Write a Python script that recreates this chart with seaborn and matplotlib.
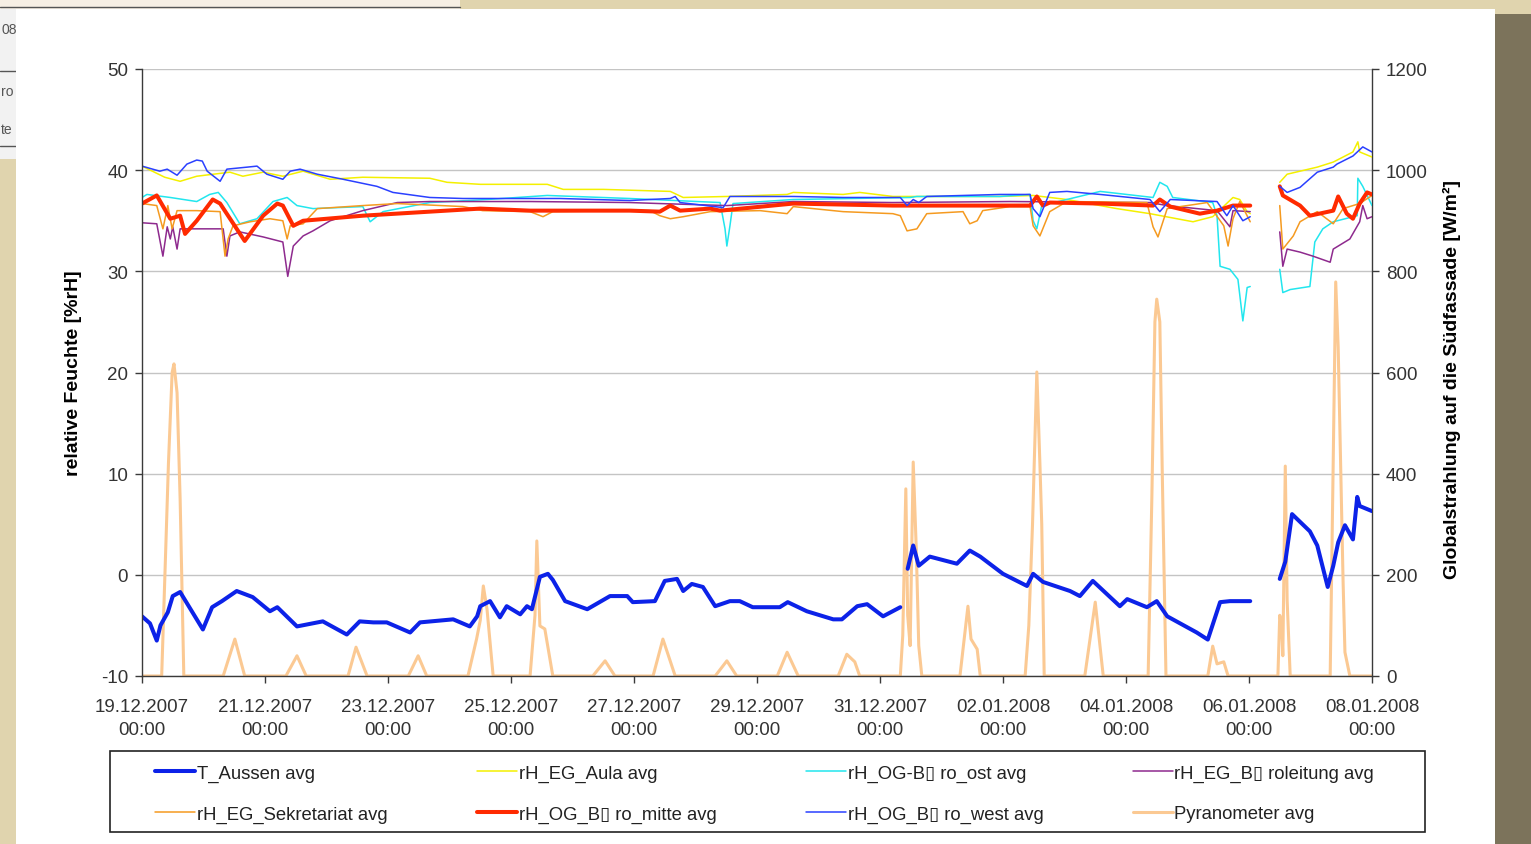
import pandas as pd
import matplotlib
matplotlib.use("Agg")
import matplotlib.pyplot as plt
import matplotlib.dates as mdates
from matplotlib.lines import Line2D
from matplotlib.patches import Rectangle
import seaborn as sns

sns.set_theme(style="white")
plt.rcParams["font.family"] = ["Liberation Sans", "DejaVu Sans"]
plt.rcParams["axes.unicode_minus"] = False

START = pd.Timestamp("2007-12-19 00:00")

# (day offset from 19.12.2007 00:00, value); None marks a logging gap
t_aussen = [
    (0.0, -4.1), (0.13, -4.8), (0.24, -6.5), (0.30, -5.0), (0.42, -3.7), (0.50, -2.1),
    (0.62, -1.7), (0.75, -3.0), (0.99, -5.4), (1.14, -3.2), (1.30, -2.6), (1.54, -1.6),
    (1.80, -2.2), (2.08, -3.6), (2.20, -3.2), (2.52, -5.1), (2.94, -4.6), (3.33, -5.9),
    (3.54, -4.6), (3.76, -4.7), (3.98, -4.7), (4.36, -5.7), (4.52, -4.7), (5.06, -4.4),
    (5.33, -5.1), (5.45, -4.1), (5.50, -3.1), (5.66, -2.6), (5.82, -4.2), (5.93, -3.1),
    (6.15, -3.9), (6.26, -3.1), (6.34, -3.4), (6.47, -0.2), (6.60, 0.1), (6.68, -0.5),
    (6.88, -2.6), (7.24, -3.4), (7.61, -2.1), (7.89, -2.1), (7.98, -2.7), (8.34, -2.6),
    (8.50, -0.6), (8.70, -0.4), (8.80, -1.6), (8.94, -0.9), (9.12, -1.2), (9.32, -3.1),
    (9.56, -2.6), (9.72, -2.6), (9.93, -3.2), (10.37, -3.2), (10.50, -2.7), (10.81, -3.6),
    (11.24, -4.4), (11.38, -4.4), (11.63, -3.1), (11.79, -2.9), (12.05, -4.1), (12.33, -3.2),
    (12.33, None),
    (12.45, 0.6), (12.54, 2.9), (12.63, 0.9), (12.81, 1.8), (13.25, 1.1), (13.46, 2.4),
    (13.63, 1.8), (14.00, 0.1), (14.39, -1.1), (14.49, 0.1), (14.65, -0.7), (15.09, -1.6),
    (15.25, -2.1), (15.46, -0.6), (15.90, -3.1), (16.02, -2.4), (16.34, -3.2), (16.50, -2.6),
    (16.67, -4.1), (17.15, -5.7), (17.33, -6.4), (17.53, -2.7), (17.69, -2.6), (18.02, -2.6),
    (18.02, None),
    (18.50, -0.4), (18.59, 1.3), (18.70, 6.0), (18.99, 4.3), (19.11, 2.9), (19.28, -1.2),
    (19.37, 0.9), (19.45, 3.2), (19.56, 4.9), (19.69, 3.5), (19.76, 7.7), (19.80, 6.8),
    (20.0, 6.3),
]

rh_aula = [
    (0.0, 40.4), (0.37, 39.3), (0.62, 38.9), (0.89, 39.4), (1.43, 39.8), (1.64, 39.4),
    (1.97, 39.8), (2.29, 39.4), (2.62, 39.9), (3.06, 39.1), (3.59, 39.3), (4.68, 39.2),
    (4.96, 38.8), (5.50, 38.6), (6.59, 38.6), (6.85, 38.1), (7.50, 38.1), (8.59, 37.9),
    (8.80, 37.3), (9.51, 37.4), (10.49, 37.6), (10.59, 37.8), (11.40, 37.6), (11.67, 37.8),
    (12.21, 37.4), (13.95, 37.4), (14.49, 37.5), (15.04, 37.1), (15.85, 36.2), (16.39, 35.7),
    (17.09, 34.9), (17.41, 35.4), (17.74, 37.3), (17.85, 37.1), (17.97, 35.9), (18.02, 35.7),
    (18.02, None),
    (18.50, 38.8), (18.62, 39.6), (19.11, 40.3), (19.37, 40.8), (19.69, 41.8), (19.77, 42.8),
    (19.80, 41.8), (20.0, 41.3),
]

rh_ost = [
    (0.0, 37.3), (0.08, 37.6), (0.46, 37.3), (0.89, 36.9), (1.10, 37.6), (1.24, 37.8),
    (1.38, 36.8), (1.59, 34.7), (1.87, 35.2), (2.13, 36.9), (2.36, 37.3), (2.52, 36.5),
    (2.78, 36.2), (3.59, 36.4), (3.71, 34.9), (3.92, 35.9), (4.68, 36.8), (5.61, 37.1),
    (6.59, 37.5), (7.93, 37.2), (9.40, 36.8), (9.48, 34.2), (9.51, 32.5), (9.56, 34.5),
    (9.61, 36.7), (10.59, 37.1), (12.49, 37.3), (12.60, 37.4), (13.95, 37.4), (14.44, 37.6),
    (14.49, 35.0), (14.55, 34.2), (14.63, 36.5), (15.58, 37.9), (16.44, 37.3), (16.55, 38.8),
    (16.67, 38.4), (16.76, 37.3), (17.41, 36.8), (17.48, 35.5), (17.53, 30.5), (17.69, 30.2),
    (17.82, 29.2), (17.90, 25.1), (17.97, 28.4), (18.02, 28.5),
    (18.02, None),
    (18.50, 30.2), (18.55, 27.9), (18.67, 28.2), (18.99, 28.5), (19.07, 32.9), (19.20, 34.2),
    (19.37, 34.9), (19.76, 35.5), (19.77, 39.2), (19.85, 38.4), (20.0, 36.5),
]

rh_leitung = [
    (0.0, 34.8), (0.24, 34.7), (0.34, 31.5), (0.41, 34.4), (0.46, 33.2), (0.50, 34.4),
    (0.57, 32.2), (0.62, 34.2), (1.32, 34.2), (1.38, 31.5), (1.43, 33.5), (1.59, 33.9),
    (1.97, 33.4), (2.29, 32.9), (2.37, 29.5), (2.46, 32.5), (2.62, 33.5), (2.78, 34.0),
    (3.06, 35.0), (3.59, 36.0), (4.15, 36.8), (4.68, 36.9), (6.31, 36.9), (7.93, 36.8),
    (8.42, 36.7), (9.51, 36.5), (10.59, 36.9), (12.21, 36.8), (14.11, 36.9), (16.39, 36.8),
    (16.67, 36.5), (17.48, 36.0), (17.69, 34.4), (17.74, 36.0), (18.02, 35.9),
    (18.02, None),
    (18.50, 33.9), (18.55, 30.5), (18.62, 32.2), (18.83, 31.9), (19.04, 31.5), (19.32, 30.9),
    (19.37, 32.2), (19.64, 33.2), (19.80, 34.9), (19.85, 36.5), (19.92, 35.2), (20.0, 35.4),
]

rh_sekretariat = [
    (0.0, 36.7), (0.24, 36.5), (0.34, 34.2), (0.42, 36.5), (0.49, 34.2), (0.57, 36.0),
    (0.89, 36.0), (1.27, 35.9), (1.35, 31.5), (1.40, 33.2), (1.48, 34.5), (1.76, 34.9),
    (2.08, 35.2), (2.29, 35.0), (2.36, 33.2), (2.41, 34.5), (2.62, 34.7), (2.85, 36.2),
    (3.59, 36.5), (4.15, 36.7), (5.22, 36.4), (5.54, 36.0), (6.31, 35.9), (6.52, 35.4),
    (6.68, 35.9), (7.93, 36.0), (8.26, 36.0), (8.42, 35.5), (8.59, 35.2), (8.80, 35.4),
    (9.24, 35.9), (10.05, 36.0), (10.49, 35.7), (10.59, 36.4), (11.40, 35.9), (12.21, 35.7),
    (12.33, 35.5), (12.44, 34.0), (12.60, 34.2), (12.76, 35.7), (13.35, 35.9), (13.46, 34.7),
    (13.58, 35.0), (13.67, 36.0), (14.11, 36.4), (14.44, 36.4), (14.49, 34.5), (14.60, 33.5),
    (14.76, 35.9), (15.04, 36.9), (16.34, 36.8), (16.44, 34.4), (16.52, 33.4), (16.67, 36.2),
    (17.32, 36.8), (17.59, 34.5), (17.66, 32.5), (17.74, 35.2), (17.85, 36.9), (18.02, 34.9),
    (18.02, None),
    (18.50, 36.5), (18.55, 32.2), (18.72, 33.5), (18.83, 34.9), (19.11, 35.9), (19.37, 34.7),
    (19.53, 36.2), (19.69, 36.5), (19.80, 36.7), (20.0, 37.5),
]

rh_mitte = [
    (0.0, 36.7), (0.24, 37.5), (0.46, 35.2), (0.62, 35.5), (0.70, 33.7), (0.89, 35.0),
    (1.15, 37.1), (1.27, 36.7), (1.54, 34.2), (1.67, 33.0), (1.97, 35.5), (2.20, 36.7),
    (2.29, 36.5), (2.46, 34.5), (2.62, 35.0), (3.59, 35.5), (4.68, 35.9), (5.50, 36.2),
    (6.31, 36.0), (7.93, 36.0), (8.42, 35.9), (8.59, 36.5), (8.75, 36.0), (9.24, 36.2),
    (9.40, 36.0), (10.59, 36.7), (12.21, 36.5), (14.44, 36.5), (14.55, 37.4), (14.65, 36.5),
    (14.76, 36.8), (15.58, 36.7), (16.44, 36.5), (16.55, 37.1), (16.72, 36.4), (17.20, 35.7),
    (17.48, 36.0), (17.74, 36.5), (18.02, 36.5),
    (18.02, None),
    (18.50, 38.4), (18.55, 37.5), (18.83, 36.5), (18.99, 35.5), (19.37, 36.0), (19.45, 37.4),
    (19.59, 35.7), (19.69, 35.2), (19.80, 36.7), (19.92, 37.8), (20.0, 37.6),
]

rh_west = [
    (0.0, 40.4), (0.29, 39.9), (0.41, 40.1), (0.57, 39.5), (0.73, 40.6), (0.89, 41.0),
    (0.98, 40.9), (1.06, 39.9), (1.27, 38.9), (1.38, 40.1), (1.71, 40.3), (1.87, 40.4),
    (2.03, 39.6), (2.29, 39.1), (2.41, 39.9), (2.57, 40.1), (2.85, 39.6), (3.27, 39.1),
    (3.82, 38.4), (4.08, 37.8), (4.68, 37.3), (5.22, 37.2), (6.80, 37.2), (7.93, 37.0),
    (8.59, 37.2), (8.67, 37.4), (8.75, 36.8), (9.45, 36.3), (9.56, 37.4), (10.59, 37.4),
    (11.40, 37.3), (12.33, 37.3), (12.44, 36.5), (12.54, 37.1), (12.63, 36.8), (12.76, 37.4),
    (13.95, 37.6), (14.44, 37.6), (14.49, 36.2), (14.60, 35.4), (14.76, 37.8), (15.04, 37.9),
    (15.58, 37.6), (16.39, 37.1), (16.55, 35.9), (16.72, 37.1), (17.48, 36.9), (17.64, 35.5),
    (17.74, 36.5), (17.90, 35.0), (18.02, 35.4),
    (18.02, None),
    (18.50, 38.4), (18.62, 37.8), (18.83, 38.3), (19.11, 39.8), (19.37, 40.3), (19.43, 40.6),
    (19.69, 41.4), (19.85, 42.3), (20.0, 41.8),
]

pyranometer = [
    (0.0, 0), (0.32, 0), (0.37, 190), (0.43, 420), (0.49, 600), (0.52, 617), (0.57, 560),
    (0.62, 350), (0.68, 0),
    (1.32, 0), (1.51, 73), (1.67, 0),
    (2.34, 0), (2.52, 40), (2.67, 0),
    (3.35, 0), (3.48, 57), (3.66, 0),
    (4.33, 0), (4.49, 40), (4.63, 0),
    (5.30, 0), (5.44, 73), (5.50, 110), (5.55, 178), (5.61, 132), (5.71, 0),
    (6.31, 0), (6.39, 120), (6.42, 267), (6.47, 99), (6.55, 93), (6.68, 0),
    (7.33, 0), (7.53, 30), (7.69, 0),
    (8.31, 0), (8.47, 73), (8.67, 0),
    (9.32, 0), (9.51, 30), (9.67, 0),
    (10.33, 0), (10.49, 47), (10.67, 0),
    (11.32, 0), (11.46, 43), (11.59, 28), (11.67, 0),
    (12.33, 0), (12.37, 80), (12.42, 370), (12.45, 120), (12.49, 60), (12.54, 423),
    (12.59, 250), (12.63, 60), (12.68, 0),
    (13.30, 0), (13.43, 138), (13.48, 73), (13.58, 53), (13.63, 0),
    (14.36, 0), (14.42, 100), (14.48, 300), (14.55, 601), (14.60, 420), (14.63, 300), (14.67, 0),
    (15.33, 0), (15.50, 146), (15.63, 0),
    (16.36, 0), (16.42, 350), (16.47, 700), (16.50, 745), (16.55, 700), (16.59, 400), (16.65, 0),
    (17.33, 0), (17.41, 59), (17.48, 24), (17.59, 28), (17.66, 0),
    (18.47, 0), (18.50, 120), (18.53, 100), (18.55, 40), (18.59, 415), (18.62, 150), (18.67, 0),
    (19.32, 0), (19.37, 430), (19.41, 779), (19.45, 650), (19.53, 186), (19.56, 47),
    (19.64, 0), (20.0, 0),
]

series_labels = [
    "T_Aussen avg", "rH_EG_Aula avg", "rH_OG-B\u25af ro_ost avg", "rH_EG_B\u25af roleitung avg",
    "rH_EG_Sekretariat avg", "rH_OG_B\u25af ro_mitte avg", "rH_OG_B\u25af ro_west avg",
    "Pyranometer avg",
]
series_colors = ["#0c22e8", "#f4f000", "#22e6ee", "#8e2a8e",
                 "#f59a20", "#ff2a00", "#2a40ff", "#fbc993"]
series_widths = [2.9, 1.1, 1.1, 1.1, 1.1, 2.9, 1.1, 2.2]

tick_dates = pd.date_range("2007-12-19", "2008-01-08", freq="2D")


def to_frame(points):
    df = pd.DataFrame(points, columns=["day", "value"])
    df["value"] = pd.to_numeric(df["value"])
    df["seg"] = df["value"].isna().cumsum()
    df = df.dropna()
    df["time"] = START + pd.to_timedelta(df["day"], unit="D")
    return df


def px(x, y):
    return x / 1531, 1 - y / 845


fig = plt.figure(figsize=(15.31, 8.45), dpi=100, facecolor="#e0d4ae")

# screenshot background: window behind, white card, shadow
fig.patches.append(Rectangle(px(0, 10), 460 / 1531, 10 / 845, transform=fig.transFigure,
                             facecolor="#f7efe4", edgecolor="none", zorder=-5))
fig.patches.append(Rectangle(px(0, 160), 30 / 1531, 150 / 845, transform=fig.transFigure,
                             facecolor="#f2f2f2", edgecolor="none", zorder=-5))
for yy in (8, 72, 147):
    fig.lines.append(Line2D([0, 460 / 1531 if yy == 8 else 30 / 1531], [1 - yy / 845] * 2,
                            transform=fig.transFigure, color="#555555", lw=1, zorder=-4))
for txt, yy in (("08", 30), ("ro", 92), ("te", 130)):
    fig.text(1 / 1531, 1 - yy / 845, txt, ha="left", va="center", fontsize=10,
             color="#555555", zorder=-1)
fig.patches.append(Rectangle(px(1495, 845), 36 / 1531, 830 / 845, transform=fig.transFigure,
                             facecolor="#7c735b", edgecolor="none", zorder=-3))
fig.patches.append(Rectangle(px(16, 845), 1479 / 1531, 835 / 845, transform=fig.transFigure,
                             facecolor="white", edgecolor="none", zorder=-2))

ax = fig.add_axes([142 / 1531, 1 - 677 / 845, 1230 / 1531, 607 / 845])
ax2 = ax.twinx()
ax.set_zorder(2)
ax2.set_zorder(1)
ax.patch.set_visible(False)
ax2.patch.set_visible(True)
ax2.patch.set_facecolor("white")

rh_series = [t_aussen, rh_aula, rh_ost, rh_leitung, rh_sekretariat, rh_mitte, rh_west]
for pts, col, lw in zip(rh_series, series_colors[:7], series_widths[:7]):
    sns.lineplot(data=to_frame(pts), x="time", y="value", units="seg", estimator=None,
                 color=col, lw=lw, ax=ax, legend=False)

sns.lineplot(data=to_frame(pyranometer), x="time", y="value", estimator=None,
             color=series_colors[7], lw=series_widths[7], ax=ax2, legend=False)

ax.set_xlim(tick_dates[0], tick_dates[-1])
ax.set_ylim(-10, 50)
ax2.set_ylim(0, 1200)
ax.set_yticks(range(-10, 51, 10))
ax2.set_yticks(range(0, 1201, 200))
ax.set_xticks(tick_dates)
ax.xaxis.set_major_formatter(mdates.DateFormatter("%d.%m.%Y\n%H:%M"))

ax.grid(False)
ax2.grid(False)
ax2.yaxis.grid(True, color="#c4c4c4", lw=1.0)

for s in ("top", "right"):
    ax.spines[s].set_visible(False)
for s in ("top", "left", "bottom"):
    ax2.spines[s].set_visible(False)
for sp in (ax.spines["left"], ax.spines["bottom"], ax2.spines["right"]):
    sp.set_color("#3a3a3a")
    sp.set_linewidth(1.0)

ax.tick_params(axis="y", direction="out", length=5, width=1, color="#3a3a3a",
               pad=5, labelsize=13.5, labelcolor="#333333", left=True)
ax.tick_params(axis="x", direction="out", length=5, width=1, color="#3a3a3a",
               pad=11, labelsize=13.5, labelcolor="#333333", bottom=True)
ax2.tick_params(axis="y", direction="out", length=5, width=1, color="#3a3a3a",
                pad=5, labelsize=13.5, labelcolor="#333333", right=True)
for lbl in ax.get_xticklabels():
    lbl.set_linespacing(1.45)

ax.set_xlabel("")
ax.set_ylabel("relative Feuchte [%rH]", fontsize=14, fontweight="bold", color="black")
ax.yaxis.set_label_coords(-0.049, 0.5)
ax2.set_ylabel("Globalstrahlung auf die Südfassade [W/m²]", fontsize=14,
               fontweight="bold", color="black", rotation=90)
ax2.yaxis.set_label_coords(1.058, 0.49)

# legend box with Excel-like row-major ordering
fig.patches.append(Rectangle(px(110, 833), 1315 / 1531, 81 / 845, transform=fig.transFigure,
                             facecolor="white", edgecolor="#222222", lw=1.2, zorder=4))
handles = [Line2D([], [], color=c, lw=w) for c, w in zip(series_colors, series_widths)]
order = [0, 4, 1, 5, 2, 6, 3, 7]
leg = fig.legend([handles[i] for i in order], [series_labels[i] for i in order],
                 ncol=4, loc="center", bbox_to_anchor=(0.4995, 0.0597), frameon=False,
                 fontsize=13.3, handlelength=2.15, handletextpad=0.1, columnspacing=4.85,
                 labelspacing=1.28)
leg.set_zorder(5)
for t in leg.get_texts():
    t.set_color("#222222")

fig.savefig("out.png", dpi=100, facecolor=fig.get_facecolor())
